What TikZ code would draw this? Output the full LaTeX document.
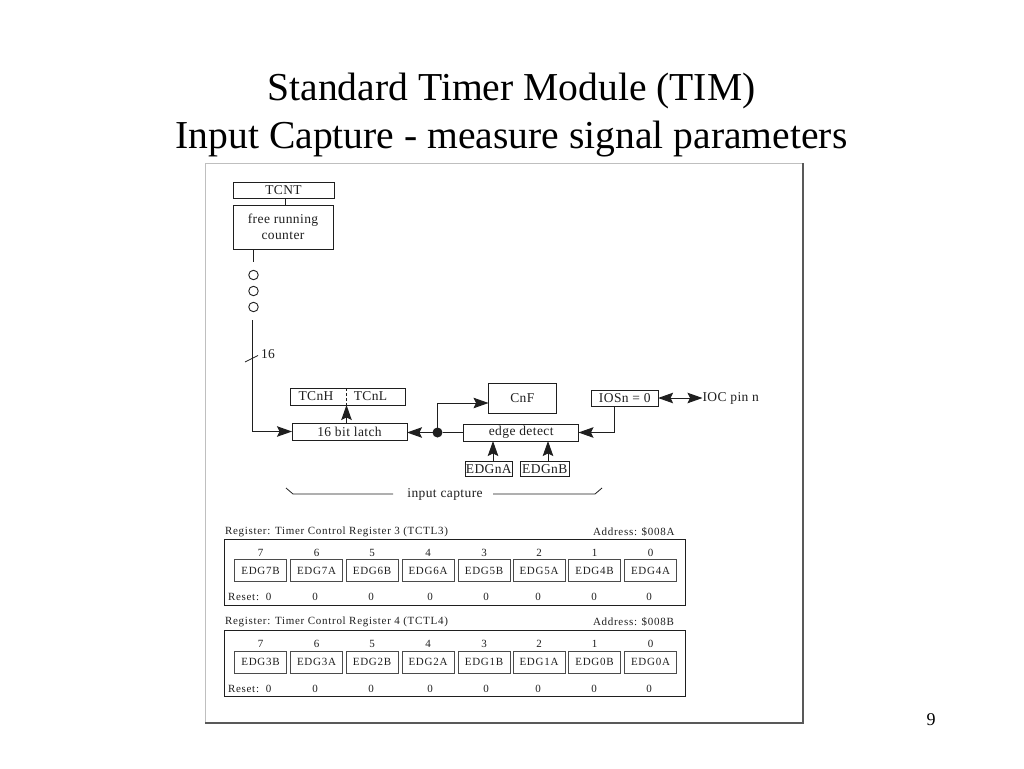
\documentclass[tikz,border=0pt]{standalone}
\usepackage{fontspec}
\setmainfont{Liberation Serif}
\newfontfamily\regfont[LetterSpace=6.5]{Liberation Serif}
\newfontfamily\labfont[LetterSpace=3]{Liberation Serif}
\usetikzlibrary{arrows.meta,calc}
\definecolor{ink}{gray}{0.12}
\tikzset{
  x=1pt,y=-1pt,
  txt/.style={inner sep=0pt,outer sep=0pt,text=ink,font=\labfont\fontsize{13.5}{15}\selectfont},
  box/.style={draw=ink,line width=1pt,inner sep=0pt,outer sep=0pt,text=ink,font=\labfont\fontsize{13.5}{15}\selectfont},
  regtxt/.style={inner sep=0pt,outer sep=0pt,text=ink,font=\regfont\fontsize{11}{12}\selectfont},
  cell/.style={draw=ink!80,line width=1pt,inner sep=0pt,outer sep=0pt,minimum width=52pt,minimum height=22pt,text=ink,font=\regfont\fontsize{11}{12}\selectfont},
  regbox/.style={draw=ink,line width=1pt,inner sep=0pt,outer sep=0pt,minimum width=460.5pt,minimum height=66.5pt},
  wire/.style={draw=ink,line width=1pt},
  arr/.style={wire,-{Stealth[length=15pt,width=10.5pt,inset=2.5pt]}},
  darr/.style={wire,{Stealth[length=15pt,width=10.5pt,inset=2.5pt]}-{Stealth[length=15pt,width=10.5pt,inset=2.5pt]}},
  ring/.style={circle,draw=ink,line width=0.9pt,minimum size=9.5pt,inner sep=0pt,outer sep=0pt},
  dot/.style={circle,fill=ink,minimum size=10pt,inner sep=0pt,outer sep=0pt},
  title/.style={inner sep=0pt,outer sep=0pt,text=black,anchor=base,font=\fontsize{39.6}{48}\selectfont},
}
\begin{document}
\begin{tikzpicture}
\useasboundingbox (0,0) rectangle (1024,768);
\fill[white] (0,0) rectangle (1024,768);
% titles
\node[title] (t1) at (511.5,100) {Standard Timer Module (TIM)};
\node[title] (t2) at (511.5,148) {Input Capture - measure signal parameters};
\node[inner sep=0pt,font=\fontsize{18}{20}\selectfont] (pg) at (931,720) {9};
% frame
\draw[line width=0.8pt,draw=black!25] (803,163) -- (205,163) -- (205,723);
\draw[line width=1.4pt,draw=black!65] (205,723) -- (803,723) -- (803,163);
% counter column
\node[box,minimum width=101pt,minimum height=16.5pt] (tcnt) at (283.5,190.3) {TCNT};
\node[box,minimum width=100pt,minimum height=44pt,align=center] (frc) at (283,227) {free running\\[1pt]counter};
\draw[wire] (tcnt.south -| 285,0) -- (frc.north -| 285,0);
\node[ring] (c1) at (253.5,275) {};
\node[ring] (c2) at (253.5,291) {};
\node[ring] (c3) at (253.5,307) {};
\coordinate (stubend) at (253.5,262);
\draw[wire] (frc.south -| stubend) -- (stubend);
% latch group
\node[box,minimum width=114.5pt,minimum height=17pt] (tcn) at (348.2,396.5) {};
\node[txt] (tch) at (316,396.5) {TCnH};
\node[txt] (tcl) at (370.5,396.5) {TCnL};
\draw[wire,densely dashed,line width=0.8pt] (tcn.north -| 346.5,0) -- (tcn.south -| 346.5,0);
\node[box,minimum width=115pt,minimum height=17pt] (latch) at (349.5,431.5) {16 bit latch};
\draw[arr] (latch.north -| 346.5,0) -- (tcn.south -| 346.5,0);
\coordinate (busin) at (252.5,320);
\coordinate (buscorner) at (252.5,431.5);
\draw[arr] (busin) -- (buscorner) -- (latch.west);
\coordinate (tick1) at (245,362);
\coordinate (tick2) at (258,355.5);
\draw[wire,line width=0.8pt] (tick1) -- (tick2);
\node[txt,anchor=west] (bus16) at (261,354) {16};
% capture
\node[box,minimum width=67.5pt,minimum height=29.5pt] (cnf) at (522.3,398.3) {CnF};
\node[box,minimum width=114.5pt,minimum height=17pt] (edge) at (521.2,432.5) {edge detect};
\node[box,minimum width=66.5pt,minimum height=16pt] (ios) at (624.8,398) {IOSn = 0};
\node[txt,anchor=west] (pin) at (702.5,398) {IOC pin n};
\node[dot] (jn) at (437.5,432.5) {};
\draw[arr] (jn) -- (latch.east |- jn);
\draw[wire] (edge.west) -- (jn);
\draw[arr] (jn) |- (cnf.west |- 0,403);
\draw[arr] (ios.south -| 614,0) |- (edge.east);
\draw[darr] (ios.east) -- (pin.west);
\node[box,line width=0.9pt,minimum width=47.5pt,minimum height=15.5pt] (ea) at (488.8,468.8) {EDGnA};
\node[box,line width=0.9pt,minimum width=49.5pt,minimum height=15.5pt] (eb) at (544.8,468.8) {EDGnB};
\draw[arr] (ea.north -| 493,0) -- (edge.south -| 493,0);
\draw[arr] (eb.north -| 548,0) -- (edge.south -| 548,0);
% input capture brace
\node[txt] (ic) at (445,494) {input capture};
\coordinate (bl0) at (286,488);
\coordinate (bl1) at (293,494);
\coordinate (bl2) at (393,494);
\coordinate (br0) at (493,494);
\coordinate (br1) at (595,494);
\coordinate (br2) at (602,488);
\draw[wire,line width=0.8pt] (bl0) -- (bl1) -- (bl2);
\draw[wire,line width=0.8pt] (br0) -- (br1) -- (br2);
% register 3
\node[regtxt,anchor=west] (r3t) at (225,532) {Register: Timer Control Register 3 (TCTL3)};
\node[regtxt,anchor=west] (r3a) at (593,531.5) {Address: \$008A};
\node[regbox] (r3) at (454.8,572.3) {};
\node[regtxt,anchor=west] (r3r) at (228,597) {Reset:\ \ 0};
% register 4
\node[regtxt,anchor=west] (r4t) at (225,622) {Register: Timer Control Register 4 (TCTL4)};
\node[regtxt,anchor=west] (r4a) at (593,622) {Address: \$008B};
\node[regbox] (r4) at (454.8,663.5) {};
\node[regtxt,anchor=west] (r4r) at (228,689) {Reset:\ \ 0};
% cells
\foreach \cx/\bit/\z/\nm/\nmb/\zid in {
  260.5/7/-/EDG7B/EDG3B/a,
  316.5/6/315/EDG7A/EDG3A/b,
  372/5/371/EDG6B/EDG2B/c,
  428/4/430/EDG6A/EDG2A/d,
  484/3/486/EDG5B/EDG1B/e,
  539/2/538/EDG5A/EDG1A/f,
  594.5/1/594/EDG4B/EDG0B/g,
  650.5/0/649/EDG4A/EDG0A/h}{
  \node[cell] (x\zid) at (\cx,570.5) {\nm};
  \node[cell] (y\zid) at (\cx,662) {\nmb};
  \node[regtxt] (bx\zid) at (\cx,553) {\bit};
  \node[regtxt] (by\zid) at (\cx,644) {\bit};
  \if-\z\else
  \node[regtxt] (zx\zid) at (\z,597) {0};
  \node[regtxt] (zy\zid) at (\z,689) {0};
  \fi
}
\end{tikzpicture}
\end{document}
